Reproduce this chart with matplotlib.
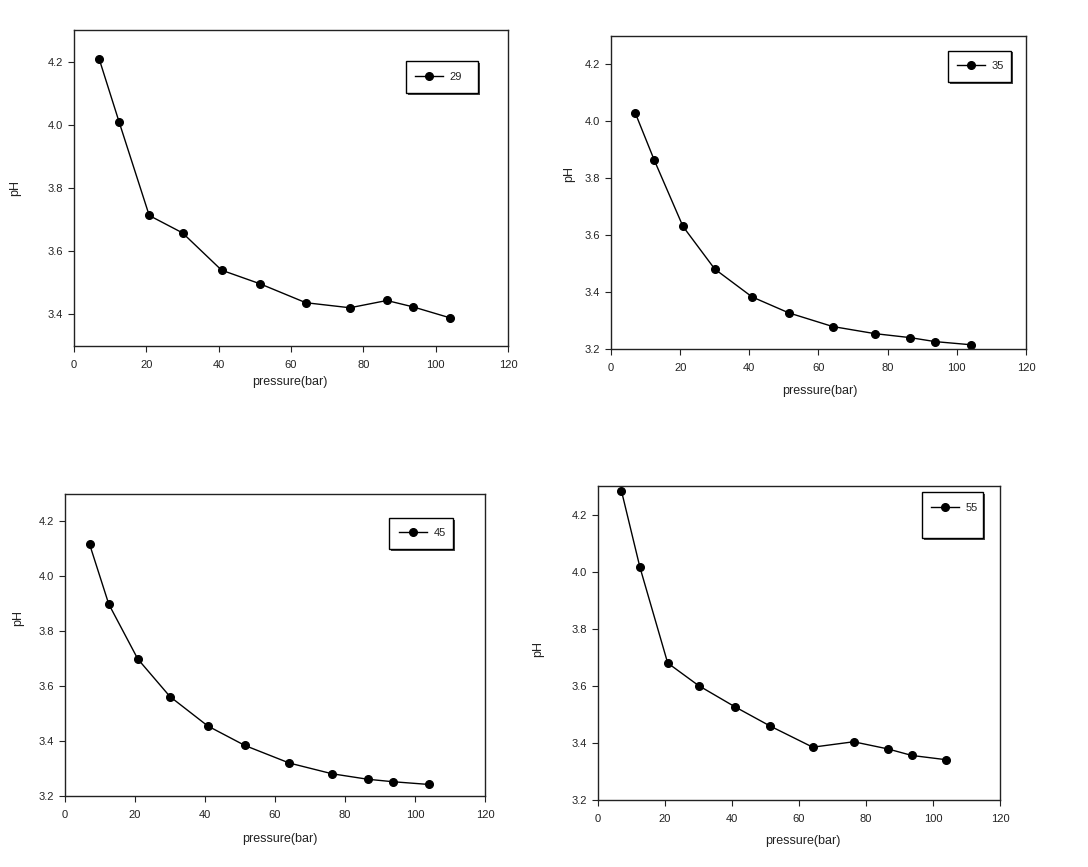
import matplotlib
matplotlib.use("Agg")
import matplotlib.pyplot as plt
from matplotlib.patches import Rectangle

plt.rcParams['font.family'] = ['Liberation Sans', 'DejaVu Sans']

# pressure (bar) - same for all four runs
pressure = [7.0, 12.5, 20.8, 30.0, 40.8, 51.4, 64.1, 76.3, 86.5, 93.7, 104.0]

ph_29 = [4.207, 4.008, 3.713, 3.658, 3.540, 3.497, 3.437, 3.421, 3.444, 3.424, 3.389]
ph_35 = [4.030, 3.864, 3.631, 3.481, 3.383, 3.327, 3.279, 3.254, 3.240, 3.226, 3.215]
ph_45 = [4.118, 3.899, 3.699, 3.562, 3.455, 3.384, 3.320, 3.281, 3.261, 3.252, 3.242]
ph_55 = [4.283, 4.016, 3.680, 3.601, 3.527, 3.459, 3.385, 3.404, 3.379, 3.356, 3.341]

labels = ['29', '35', '45', '55']
series = [ph_29, ph_35, ph_45, ph_55]
ylims = [(3.3, 4.3), (3.2, 4.3), (3.2, 4.3), (3.2, 4.3)]

W, H = 1088, 867
fig = plt.figure(figsize=(W / 100, H / 100), dpi=100)

# axes boxes in pixels: left, top, right, bottom
boxes = [(74, 30, 508, 346), (611, 36, 1026, 349),
         (65, 494, 485, 796), (598, 486, 1000, 800)]
# legend frames in pixels: left, top, right, bottom ; entry line start x, center y
leg_boxes = [(406, 61, 478, 93, 415, 77), (948, 51, 1011, 82, 957, 66),
             (389, 518, 453, 549, 399, 533), (922, 492, 983, 538, 931, 508)]
ylab_pos = [(-0.136, 0.50), (-0.101, 0.56), (-0.112, 0.59), (-0.149, 0.48)]
xlab_pos = [(0.498, -0.114), (0.504, -0.134), (0.512, -0.142), (0.51, -0.131)]

for i in range(4):
    l, t, r, b = boxes[i]
    ax = fig.add_axes([l / W, 1 - b / H, (r - l) / W, (b - t) / H])
    line, = ax.plot(pressure, series[i], color='black', lw=1.0, marker='o',
                    markersize=5.5, label=labels[i])
    ax.set_xlim(0, 120)
    ax.set_ylim(*ylims[i])
    ax.set_xticks([0, 20, 40, 60, 80, 100, 120])
    if i == 0:
        ax.set_yticks([3.4, 3.6, 3.8, 4.0, 4.2])
    else:
        ax.set_yticks([3.2, 3.4, 3.6, 3.8, 4.0, 4.2])
    ax.yaxis.set_major_formatter(plt.FormatStrFormatter('%.1f'))
    ax.tick_params(direction='out', length=4, width=0.8, labelsize=8,
                   colors='#222222')
    ax.tick_params(axis='x', pad=6)
    ax.tick_params(axis='y', pad=4)
    for s in ax.spines.values():
        s.set_linewidth(1.0)
        s.set_color('#222222')
    ax.set_xlabel('pressure(bar)', fontsize=9, color='#222222')
    ax.set_ylabel('pH', fontsize=9, color='#222222')
    ax.xaxis.set_label_coords(*xlab_pos[i])
    ax.yaxis.set_label_coords(*ylab_pos[i])
    ax.xaxis.label.set_va('center')
    ax.yaxis.label.set_va('center')

    # legend box (frame drawn by hand so its size can follow the original)
    bl, bt, br, bb, lx, ly = leg_boxes[i]
    ax.add_patch(Rectangle(((bl + 1.5) / W, 1 - (bb + 1.5) / H),
                           (br - bl) / W, (bb - bt) / H,
                           transform=fig.transFigure, facecolor='#444444',
                           edgecolor='none', zorder=3, clip_on=False))
    ax.add_patch(Rectangle((bl / W, 1 - bb / H), (br - bl) / W,
                           (bb - bt) / H, transform=fig.transFigure,
                           facecolor='white', edgecolor='black', lw=1.0,
                           zorder=4, clip_on=False))
    leg = ax.legend(handles=[line], loc='center left', frameon=False,
                    bbox_to_anchor=(lx / W, 1 - ly / H),
                    bbox_transform=fig.transFigure, borderaxespad=0,
                    borderpad=0, handlelength=2.5, handletextpad=0.6,
                    fontsize=8)
    for txt in leg.get_texts():
        txt.set_color('#222222')
    leg.set_zorder(6)

fig.savefig('out.png', dpi=100)
